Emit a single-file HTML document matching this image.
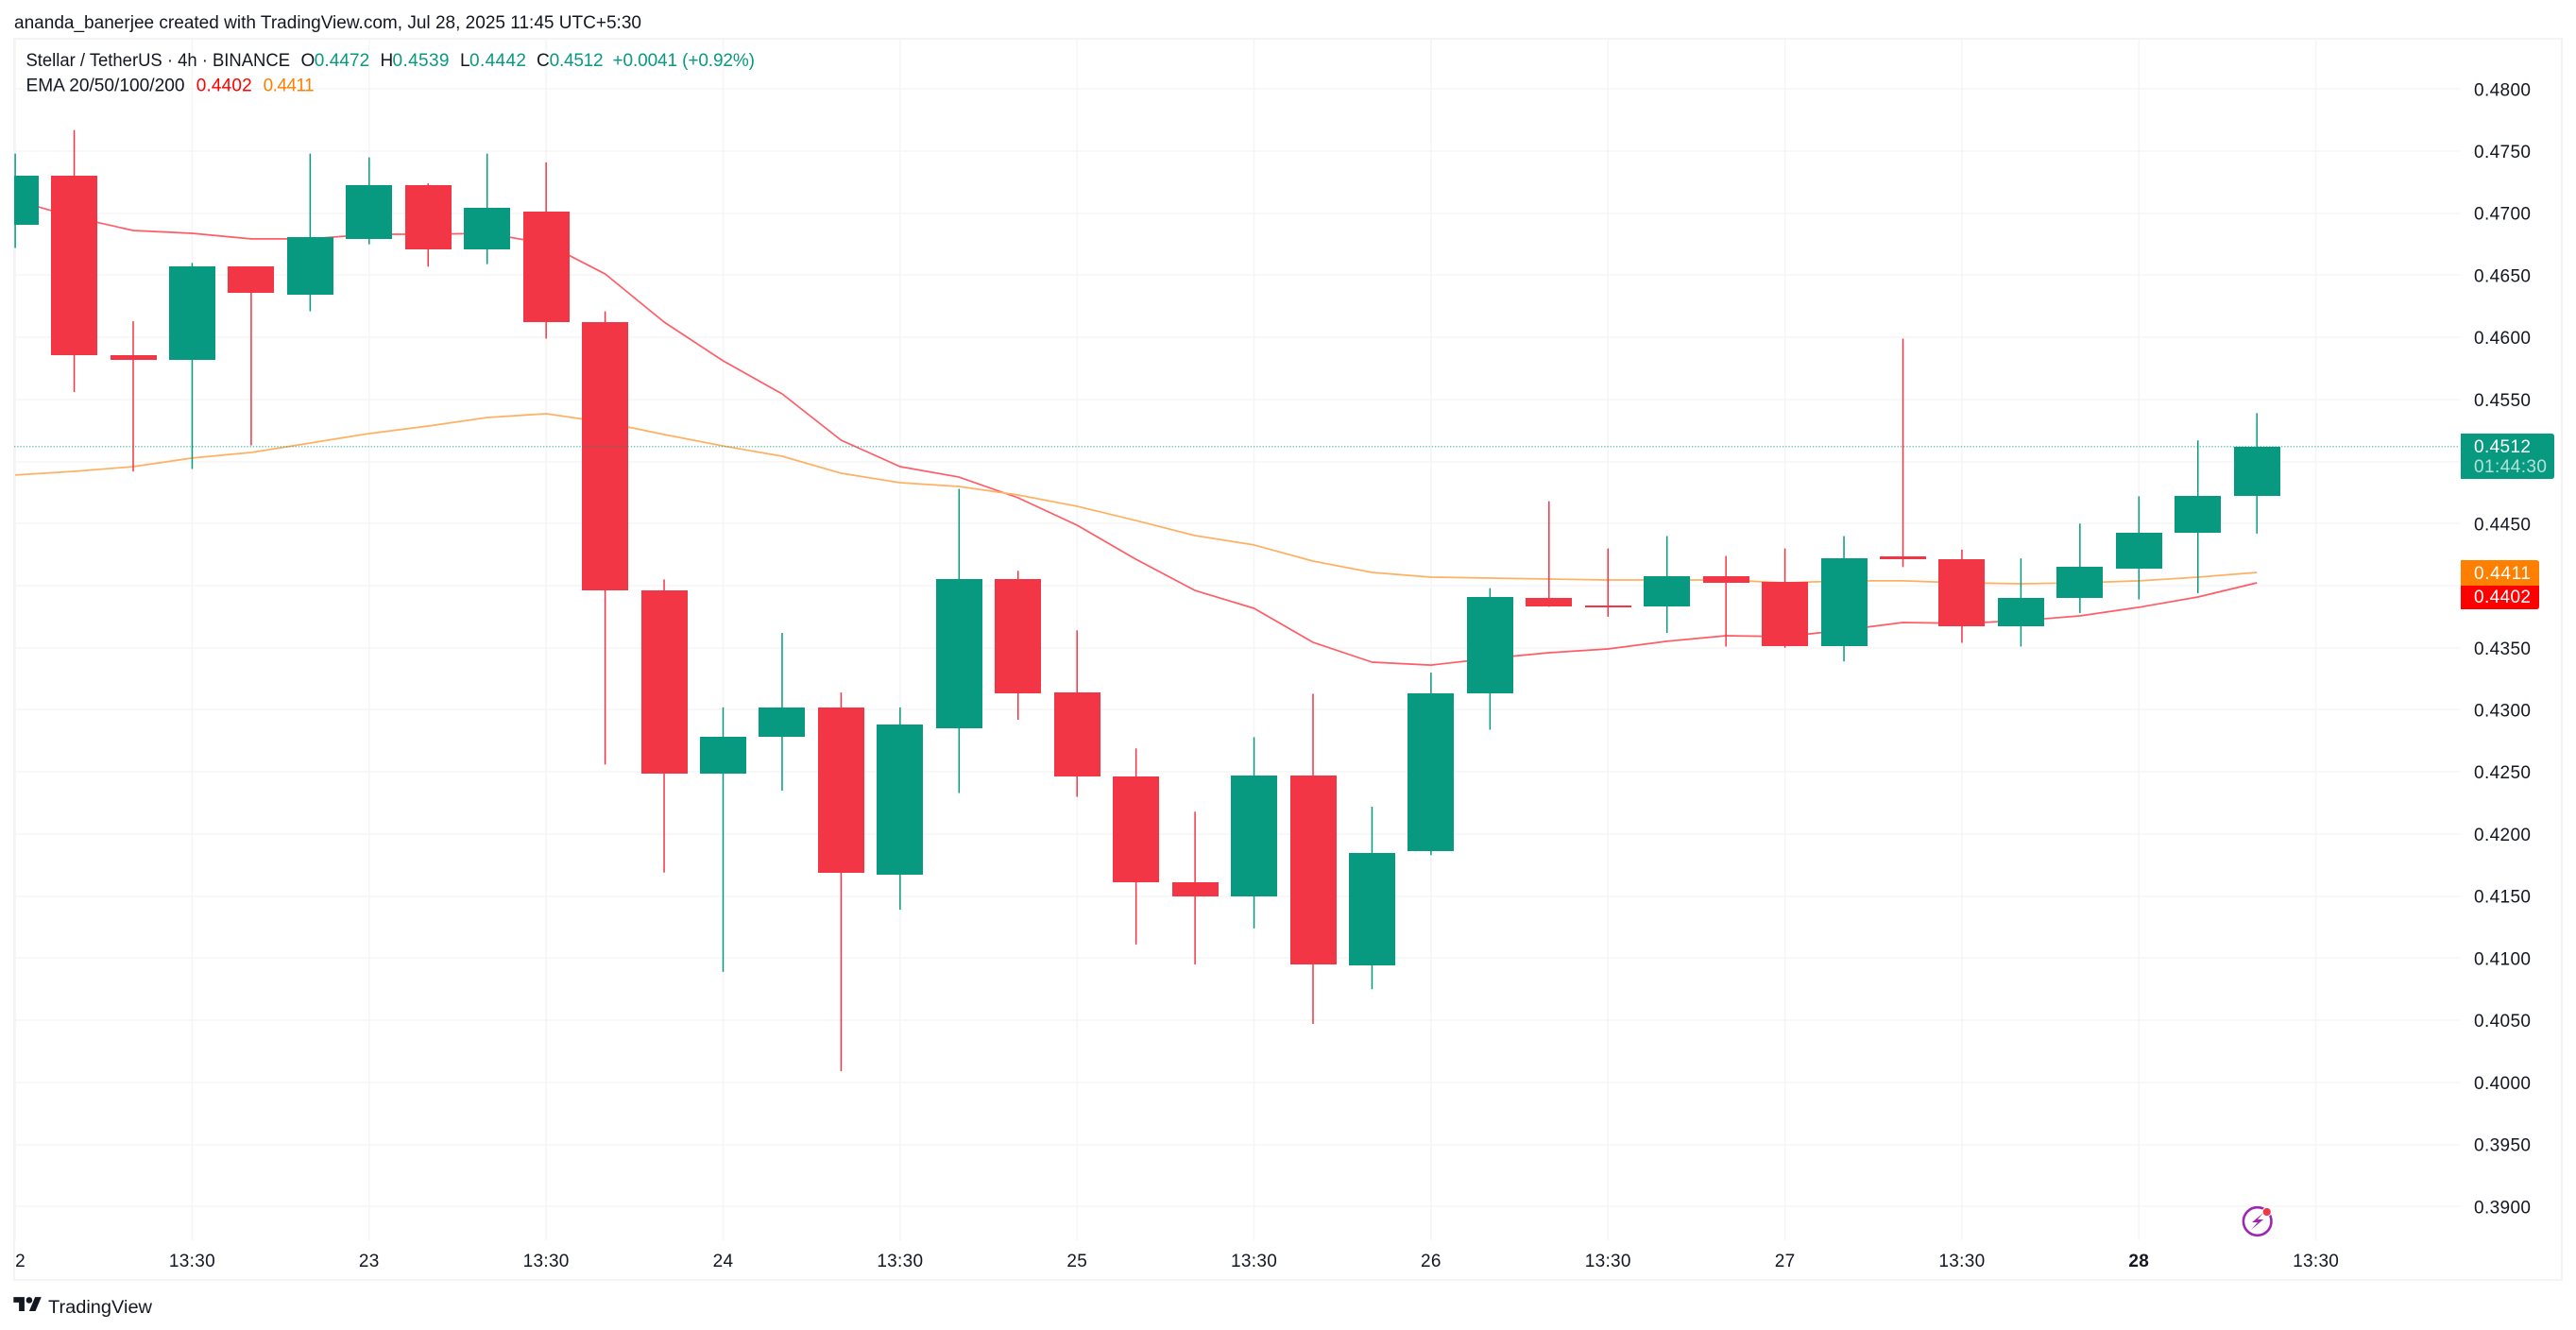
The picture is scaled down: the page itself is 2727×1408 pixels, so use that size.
<!DOCTYPE html>
<html lang="en">
<head>
<meta charset="utf-8">
<title>Stellar / TetherUS 4h chart</title>
<style>
html,body{margin:0;padding:0;background:#fff;width:2727px;height:1408px;overflow:hidden}
svg{display:block}
text{font-family:"Liberation Sans",sans-serif;font-size:19px;fill:#131722}
.g{fill:#089981}
</style>
</head>
<body>
<svg id="chart" width="2727" height="1408" viewBox="0 0 2727 1408" xmlns="http://www.w3.org/2000/svg">
  <defs>
    <clipPath id="pane-clip"><rect x="15" y="42" width="2589" height="1271"/></clipPath>
    <clipPath id="axis-clip"><rect x="15" y="1313" width="2589" height="41"/></clipPath>
  </defs>
  <rect width="2727" height="1408" fill="#fff"/>
  <text x="15" y="30" textLength="664" lengthAdjust="spacingAndGlyphs" font-size="20">ananda_banerjee created with TradingView.com, Jul 28, 2025 11:45 UTC+5:30</text>
  <rect x="15" y="41" width="2697" height="1314" fill="none" stroke="#f4f4f5" stroke-width="2"/>
  <g id="grid"></g>
  <g id="price-axis"></g>
  <g id="time-axis" clip-path="url(#axis-clip)"></g>
  <g id="plot" clip-path="url(#pane-clip)"></g>
  <g id="badges"></g>

  <g>
    <text x="27.5" y="70" textLength="279.5" lengthAdjust="spacingAndGlyphs">Stellar / TetherUS · 4h · BINANCE</text>
    <text x="318.5" y="70">O</text>
    <text class="g" x="332.7" y="70" textLength="58.5">0.4472</text>
    <text x="402.5" y="70">H</text>
    <text class="g" x="415.5" y="70" textLength="60">0.4539</text>
    <text x="487" y="70">L</text>
    <text class="g" x="497" y="70" textLength="60">0.4442</text>
    <text x="568" y="70">C</text>
    <text class="g" x="581.6" y="70" textLength="57">0.4512</text>
    <text class="g" x="648.5" y="70" textLength="150.5">+0.0041 (+0.92%)</text>
  </g>
  <g>
    <text x="27.5" y="96.5" textLength="168" lengthAdjust="spacingAndGlyphs">EMA 20/50/100/200</text>
    <text x="207.7" y="96.5" textLength="59" style="fill:#ff0000">0.4402</text>
    <text x="278.6" y="96.5" textLength="54" style="fill:#ff8000">0.4411</text>
  </g>

  <g>
    <circle cx="2389.7" cy="1293" r="14.8" fill="#fff" stroke="#9c27b0" stroke-width="2.6"/>
    <polygon points="2396,1284 2384,1294 2390,1294 2383,1302 2396,1291 2390,1291" fill="#9c27b0"/>
    <circle cx="2399.7" cy="1283" r="4.6" fill="#f23645" stroke="#fff" stroke-width="1"/>
  </g>

  <g>
    <g transform="translate(14.3 1369.8) scale(.83)">
      <path d="M14 22H7V11H0V4h14v18zM28 22h-8l7.5-18h8L28 22z" fill="#131722"/>
      <circle cx="20" cy="8" r="4" fill="#131722"/>
    </g>
    <text x="51" y="1390" textLength="110" lengthAdjust="spacingAndGlyphs" font-size="21">TradingView</text>
  </g>
</svg>

<script>
// Bar-axis labels (one slot per 4h bar, blank where no tick is printed)
const barLabels = ['22','','','13:30','','','23','','','13:30','','','24','','','13:30','','','25','','','13:30','','','26','','','13:30','','','27','','','13:30','','','28','','','13:30'];
const boldLabels = ['28'];
// Price-axis tick labels
const priceTicks = ['0.4800','0.4750','0.4700','0.4650','0.4600','0.4550','0.4500','0.4450','0.4400','0.4350','0.4300','0.4250','0.4200','0.4150','0.4100','0.4050','0.4000','0.3950','0.3900'];
// OHLC series
const opens  = [.4691,.4730,.4586,.4582,.4657,.4634,.4679,.4723,.4671,.4701,.4612,.4396,.4249,.4278,.4302,.4167,.4285,.4405,.4314,.4246,.4161,.4150,.4247,.4094,.4186,.4313,.4390,.4384,.4383,.4408,.4403,.4351,.4424,.4421,.4367,.4390,.4414,.4443,.4472];
const highs  = [.4748,.4767,.4613,.4660,.4657,.4748,.4745,.4724,.4748,.4741,.4621,.4405,.4302,.4362,.4314,.4302,.4478,.4412,.4364,.4269,.4218,.4278,.4313,.4222,.4330,.4398,.4468,.4430,.4440,.4424,.4430,.4440,.4599,.4429,.4422,.4450,.4472,.4517,.4539];
const lows   = [.4672,.4556,.4492,.4494,.4513,.4621,.4675,.4657,.4659,.4599,.4256,.4169,.4089,.4235,.4009,.4139,.4233,.4292,.4230,.4111,.4095,.4124,.4047,.4075,.4183,.4284,.4383,.4375,.4362,.4351,.4350,.4339,.4415,.4354,.4351,.4378,.4389,.4394,.4442];
const closes = [.4730,.4586,.4582,.4657,.4636,.4681,.4723,.4671,.4704,.4612,.4396,.4249,.4278,.4302,.4169,.4288,.4405,.4313,.4246,.4161,.4150,.4247,.4095,.4185,.4313,.4391,.4383,.4383,.4408,.4402,.4351,.4422,.4421,.4367,.4390,.4415,.4443,.4472,.4512];
// EMA series
const ema20 = [.47105,.46968,.46861,.46838,.46793,.46793,.46831,.46831,.46838,.46755,.46511,.46123,.45811,.45545,.45172,.44959,.44875,.44708,.44487,.44213,.43962,.43818,.43544,.43384,.43361,.43415,.4346,.43491,.43552,.43597,.4359,.43643,.43704,.43696,.43719,.43757,.43826,.43909,.44023];
const ema50 = [.44891,.44921,.44959,.45028,.45073,.45149,.45225,.45286,.45355,.45385,.45317,.45218,.45126,.45043,.44906,.4483,.44799,.44731,.4464,.44525,.44404,.44328,.44198,.44107,.44069,.44061,.44054,.44046,.44046,.44046,.44023,.44039,.44039,.44023,.44016,.44023,.44039,.44069,.44107];
// Printed last values
const lastEma20 = 0.4402;
const lastEma50 = 0.4411;
const countdown = '01:44:30';

const SVGNS = 'http://www.w3.org/2000/svg';
const UP = '#089981', DOWN = '#f23645';
function x(i){ return 16.1 + 62.45 * i; }
function y(p){ return 94.3 + (0.48 - p) * 13144; }
function make(tag, attrs, parent){
  const el = document.createElementNS(SVGNS, tag);
  for (const k in attrs) el.setAttribute(k, attrs[k]);
  parent.appendChild(el);
  return el;
}
const grid = document.getElementById('grid');
const priceAxis = document.getElementById('price-axis');
const timeAxis = document.getElementById('time-axis');
const plot = document.getElementById('plot');
const badges = document.getElementById('badges');

priceTicks.forEach(function(t){
  const p = parseFloat(t);
  const line = make('rect', {x:15, y:Math.round(y(p)) - 0.75, width:2589, height:1.5, fill:'#f5f5f6'}, grid);
  
  
  const label = make('text', {x:2619, y:y(p) + 7, textLength:60}, priceAxis);
  
  
  label.textContent = t;
});

barLabels.forEach(function(t, i){
  if (!t) return;
  const line = make('rect', {x:x(i) - 0.75, y:42, width:1.5, height:1271, fill:'#f5f5f6'}, grid);
  
  
  const label = make('text', {x:x(i), y:1341, 'text-anchor':'middle', 'letter-spacing':'.3'}, timeAxis);
  
  
  if (boldLabels.indexOf(t) >= 0) label.setAttribute('font-weight', 'bold');
  label.textContent = t;
});

function drawLine(values, color, name){
  const d = values.map(function(v, i){ return (i ? 'L' : 'M') + x(i).toFixed(1) + ' ' + y(v).toFixed(1); }).join('');
  const path = make('path', {d:d, fill:'none', stroke:color, 'stroke-width':1.7, 'stroke-linejoin':'round'}, plot);
  
  
}
drawLine(ema20, '#ff5c66', 'ema-20-line');
drawLine(ema50, '#ffb061', 'ema-50-line');

closes.forEach(function(c, i){
  const o = opens[i], h = highs[i], l = lows[i];
  const color = c >= o ? UP : DOWN;
  const wick = make('rect', {x:x(i) - 0.75, y:y(h), width:1.5, height:y(l) - y(h), fill:color}, plot);
  
  
  const top = Math.round(y(Math.max(o, c)));
  const bottom = Math.round(y(Math.min(o, c)));
  const body = make('rect', {x:Math.round(x(i) - 24.5), y:top, width:49, height:Math.max(2, bottom - top), fill:color}, plot);
  
  
});

const lastClose = closes[closes.length - 1];
const lastY = y(lastClose);
const priceLine = make('line', {x1:15, x2:2604, y1:lastY, y2:lastY, stroke:UP, 'stroke-width':1.1, 'stroke-opacity':.75, 'stroke-dasharray':'1.3 1.9'}, plot);



function badgePath(x0, y0, w, h, roundTop, roundBottom){
  const r = 3;
  return 'M' + x0 + ' ' + y0 + 'H' + (x0 + w - (roundTop ? r : 0)) + (roundTop ? 'q' + r + ' 0 ' + r + ' ' + r : '') +
    'V' + (y0 + h - (roundBottom ? r : 0)) + (roundBottom ? 'q0 ' + r + ' -' + r + ' ' + r : '') + 'H' + x0 + 'Z';
}
const lastTop = Math.round(lastY) - 14;
const lastBadge = make('path', {d:badgePath(2605, lastTop, 99, 48, true, true), fill:UP}, badges);


const lastText = make('text', {x:2619, y:lastTop + 20, textLength:60, style:'fill:#fff'}, badges);


lastText.textContent = lastClose.toFixed(4);
const cdText = make('text', {x:2619, y:lastTop + 41, textLength:77, style:'fill:#fff;fill-opacity:.7'}, badges);


cdText.textContent = countdown;

const e50Top = Math.round(y(lastEma50)) - 13;
const e50Badge = make('path', {d:badgePath(2605, e50Top, 83, 27, true, false), fill:'#ff8000'}, badges);


const e50Text = make('text', {x:2619, y:e50Top + 20, textLength:60, style:'fill:#fff'}, badges);


e50Text.textContent = lastEma50.toFixed(4);
const e20Top = e50Top + 27;
const e20Badge = make('path', {d:badgePath(2605, e20Top, 83, 25, false, true), fill:'#ff0000'}, badges);


const e20Text = make('text', {x:2619, y:e20Top + 18, textLength:60, style:'fill:#fff'}, badges);


e20Text.textContent = lastEma20.toFixed(4);
</script>
</body>
</html>
